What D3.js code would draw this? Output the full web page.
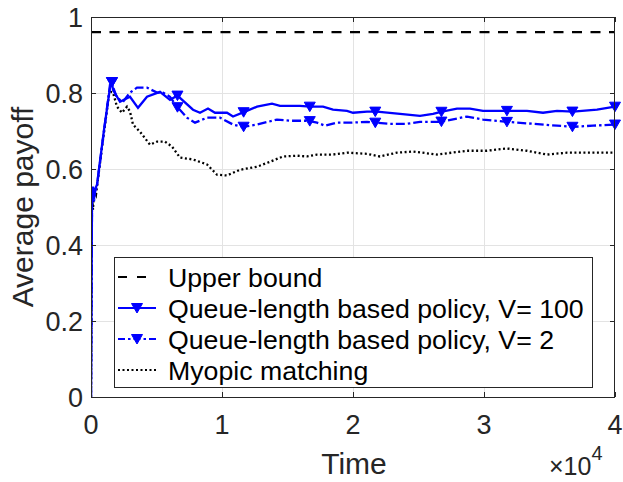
<!DOCTYPE html>
<html>
<head>
<meta charset="utf-8">
<script src="https://cdn.jsdelivr.net/npm/d3@7"></script>
<style>
  html, body { margin: 0; padding: 0; background: #fff; }
  svg { display: block; font-family: "Liberation Sans", Arial, Helvetica, sans-serif; }
</style>
</head>
<body>
<svg id="chart" width="623" height="482"></svg>
<script>
// ---------------- data ----------------
const upperBound = 0.96;

const queueV100 = [
  [0, 0], [76, 0.52], [153, 0.554], [229, 0.52], [305, 0.546], [458, 0.559],
  [992, 0.703], [1450, 0.814], [1603, 0.829], [1680, 0.808], [2214, 0.777],
  [2977, 0.790], [3588, 0.761], [4275, 0.790], [5267, 0.803], [6031, 0.782],
  [6641, 0.794], [6794, 0.787], [7786, 0.756], [8321, 0.748], [8931, 0.759],
  [9466, 0.748], [10382, 0.748], [10840, 0.738], [11756, 0.751], [12672, 0.764],
  [13817, 0.772], [14427, 0.766], [15954, 0.766], [16718, 0.764], [17710, 0.764],
  [18473, 0.756], [19542, 0.753], [20000, 0.748], [21069, 0.751], [21832, 0.751],
  [23588, 0.745], [25115, 0.740], [26107, 0.745], [26794, 0.751], [27939, 0.759],
  [28931, 0.759], [29924, 0.753], [31756, 0.753], [33282, 0.753], [34504, 0.748],
  [35573, 0.753], [36794, 0.751], [38626, 0.756], [40000, 0.764]
];

const queueV2 = [
  [0, 0], [76, 0.51], [153, 0.55], [229, 0.515], [305, 0.54], [458, 0.556],
  [992, 0.70], [1450, 0.822], [1603, 0.829], [1680, 0.816], [1985, 0.787],
  [2443, 0.777], [2977, 0.801], [3511, 0.814], [4275, 0.814], [5038, 0.801],
  [5496, 0.801], [6031, 0.790], [6565, 0.764], [7328, 0.735], [7939, 0.722],
  [8855, 0.735], [9847, 0.735], [10840, 0.717], [11603, 0.711], [12672, 0.717],
  [14198, 0.730], [15191, 0.727], [16565, 0.727], [17252, 0.722], [17863, 0.714],
  [18779, 0.722], [19771, 0.722], [21069, 0.724], [21679, 0.722], [22824, 0.719],
  [24122, 0.719], [25115, 0.724], [26641, 0.724], [28702, 0.738], [29924, 0.730],
  [31756, 0.724], [33740, 0.719], [35573, 0.714], [36794, 0.711], [38321, 0.714],
  [40000, 0.717]
];

const myopic = [
  [0, 0], [76, 0.533], [153, 0.493], [229, 0.546], [382, 0.533], [916, 0.677],
  [1374, 0.795], [1527, 0.803], [1680, 0.801], [1985, 0.764], [2366, 0.748],
  [2748, 0.764], [2977, 0.751], [3206, 0.717], [3740, 0.698], [4504, 0.664],
  [5038, 0.672], [5649, 0.672], [6183, 0.659], [6794, 0.630], [7786, 0.625],
  [8855, 0.612], [9618, 0.585], [10382, 0.583], [11374, 0.598], [12672, 0.606],
  [13664, 0.619], [14656, 0.633], [15725, 0.635], [16489, 0.633], [17252, 0.638],
  [18473, 0.638], [19542, 0.643], [21069, 0.640], [22061, 0.633], [23359, 0.643],
  [24580, 0.646], [26412, 0.638], [28702, 0.648], [30229, 0.648], [31756, 0.654],
  [33282, 0.648], [34809, 0.638], [36336, 0.643], [37863, 0.643], [40000, 0.643]
];

const markerTimes = [1600, 6600, 11650, 16700, 21700, 26750, 31750, 36750, 40000];

const xTicks = [0, 10000, 20000, 30000, 40000];
const xTickLabels = ["0", "1", "2", "3", "4"];
const yTicks = [0, 0.2, 0.4, 0.6, 0.8, 1];
const yTickLabels = ["0", "0.2", "0.4", "0.6", "0.8", "1"];

const legendLabels = [
  "Upper bound",
  "Queue-length based policy, V= 100",
  "Queue-length based policy, V= 2",
  "Myopic matching"
];

// ---------------- layout ----------------
const svg = d3.select("#chart");
const L = 91, R = 615, T = 17, B = 397;
const x = d3.scaleLinear().domain([0, 40000]).range([L, R]);
const y = d3.scaleLinear().domain([0, 1]).range([B, T]);

const blue = "#0000ff";
const tickFont = 27;
const lw = 2.3;

svg.append("defs").append("clipPath").attr("id", "plotclip")
  .append("rect").attr("x", L).attr("y", T).attr("width", R - L).attr("height", B - T);

// grid
const grid = svg.append("g").attr("stroke", "#e3e3e3").attr("stroke-width", 1);
grid.selectAll("line.gx").data(xTicks.slice(1, -1)).join("line")
  .attr("x1", d => Math.round(x(d)) + 0.5).attr("x2", d => Math.round(x(d)) + 0.5)
  .attr("y1", T).attr("y2", B);
grid.selectAll("line.gy").data(yTicks.slice(1, -1)).join("line")
  .attr("y1", d => Math.round(y(d)) + 0.5).attr("y2", d => Math.round(y(d)) + 0.5)
  .attr("x1", L).attr("x2", R);

// lines
const plot = svg.append("g").attr("clip-path", "url(#plotclip)");
const line = d3.line().x(d => x(d[0])).y(d => y(d[1]));

plot.append("path").datum([[0, upperBound], [40000, upperBound]])
  .attr("d", line).attr("fill", "none").attr("stroke", "#000")
  .attr("stroke-width", lw).attr("stroke-dasharray", "10,8.5");

plot.append("path").datum(myopic).attr("d", line).attr("fill", "none")
  .attr("stroke", "#000").attr("stroke-width", lw).attr("stroke-dasharray", "2,2.5");

plot.append("path").datum(queueV2).attr("d", line).attr("fill", "none")
  .attr("stroke", blue).attr("stroke-width", lw).attr("stroke-dasharray", "9,3,2.5,3");

plot.append("path").datum(queueV100).attr("d", line).attr("fill", "none")
  .attr("stroke", blue).attr("stroke-width", lw);

// markers (interpolated on each series at marker times)
function interp(series, t) {
  const i = d3.bisector(d => d[0]).left(series, t);
  if (i <= 0) return series[0][1];
  if (i >= series.length) return series[series.length - 1][1];
  const a = series[i - 1], b = series[i];
  return a[1] + (b[1] - a[1]) * (t - a[0]) / (b[0] - a[0]);
}
const tri = "M-5.5,-4.5L5.5,-4.5L0,5Z";
[queueV2, queueV100].forEach(s => {
  svg.append("g").selectAll("path").data(markerTimes).join("path")
    .attr("transform", t => `translate(${x(t)},${y(interp(s, t))})`)
    .attr("d", tri).attr("fill", blue).attr("stroke", blue).attr("stroke-width", 1);
});

// axes box and ticks
const ax = svg.append("g").attr("stroke", "#262626").attr("stroke-width", 1).attr("fill", "none");
ax.append("rect").attr("x", L + 0.5).attr("y", T + 0.5).attr("width", R - L - 1).attr("height", B - T);
xTicks.forEach(t => {
  const xx = Math.round(x(t)) + 0.5;
  ax.append("line").attr("x1", xx).attr("x2", xx).attr("y1", B).attr("y2", B - 5);
  ax.append("line").attr("x1", xx).attr("x2", xx).attr("y1", T).attr("y2", T + 5);
});
yTicks.forEach(t => {
  const yy = Math.round(y(t)) + 0.5;
  ax.append("line").attr("x1", L).attr("x2", L + 5).attr("y1", yy).attr("y2", yy);
  ax.append("line").attr("x1", R).attr("x2", R - 5).attr("y1", yy).attr("y2", yy);
});

// tick labels
svg.append("g").selectAll("text").data(xTicks).join("text")
  .attr("x", d => x(d)).attr("y", 434)
  .attr("text-anchor", "middle").attr("font-size", tickFont).attr("fill", "#262626")
  .text((d, i) => xTickLabels[i]);
svg.append("g").selectAll("text").data(yTicks).join("text")
  .attr("x", 83).attr("y", d => y(d) + 10)
  .attr("text-anchor", "end").attr("font-size", tickFont).attr("fill", "#262626")
  .text((d, i) => yTickLabels[i]);

// exponent
const ex = svg.append("text").attr("x", 549).attr("y", 475)
  .attr("font-size", 25).attr("fill", "#262626");
ex.append("tspan").text("×10");
ex.append("tspan").attr("dy", -15).attr("font-size", 20).text("4");

// axis labels
svg.append("text").attr("x", 354).attr("y", 474).attr("text-anchor", "middle")
  .attr("font-size", 30).attr("fill", "#262626").text("Time");
svg.append("text").attr("transform", `translate(33,${(T + B) / 2}) rotate(-90)`)
  .attr("text-anchor", "middle").attr("font-size", 30).attr("fill", "#262626")
  .text("Average payoff");

// legend
const lg = svg.append("g");
lg.append("rect").attr("x", 114.5).attr("y", 257.5).attr("width", 478).attr("height", 130)
  .attr("fill", "#fff").attr("stroke", "#262626").attr("stroke-width", 1);
const rowY = [277, 308, 339, 370];
const styles = [
  { stroke: "#000", dash: "9,10", marker: false },
  { stroke: blue, dash: null, marker: true },
  { stroke: blue, dash: "7,3,2.5,3", marker: true },
  { stroke: "#000", dash: "2,2.5", marker: false }
];
legendLabels.forEach((lab, i) => {
  const st = styles[i];
  lg.append("line").attr("x1", 118).attr("x2", 156).attr("y1", rowY[i]).attr("y2", rowY[i])
    .attr("stroke", st.stroke).attr("stroke-width", 2)
    .attr("stroke-dasharray", st.dash);
  if (st.marker) {
    lg.append("path").attr("transform", `translate(137,${rowY[i]})`)
      .attr("d", tri).attr("fill", blue).attr("stroke", blue);
  }
  lg.append("text").attr("x", 168).attr("y", rowY[i] + 9.5)
    .attr("font-size", 26.7).attr("fill", "#000").text(lab);
});
</script>
</body>
</html>
